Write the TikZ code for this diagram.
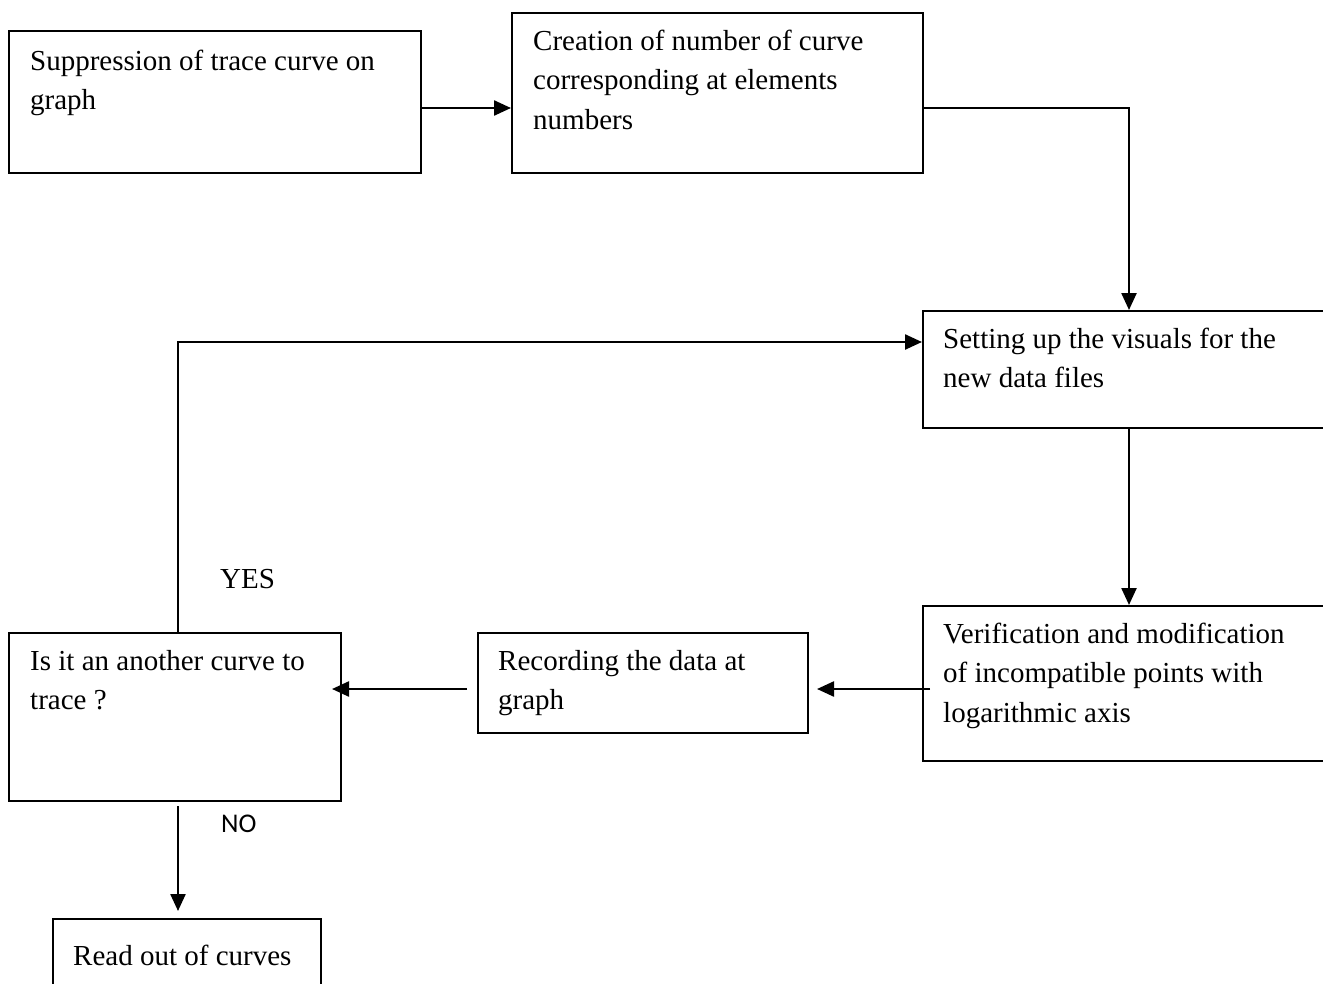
\documentclass[tikz,border=0pt]{standalone}
\usepackage{fontspec}
\setmainfont{Liberation Serif}
\newfontfamily\calibri{Carlito}
\usetikzlibrary{arrows.meta}
\tikzset{
  box/.style={draw=black, fill=white, line width=2pt, inner sep=0pt, anchor=north west},
  txt/.style={anchor=base west, align=left, inner sep=0pt, font=\fontsize{29}{39.5}\selectfont},
  fl/.style={-{Triangle[length=17pt,width=15pt]}, line width=2.4pt, draw=black},
}
\begin{document}
\begin{tikzpicture}[x=1pt,y=-1pt]
  \clip (0,0) rectangle (1323,983);
  \fill[white] (0,0) rectangle (1323,983);
  % boxes
  \node[box, minimum width=412pt, minimum height=142pt] (b1) at (8,30) {};
  \node[box, minimum width=411pt, minimum height=160pt] (b2) at (511,12) {};
  \node[box, minimum width=412pt, minimum height=117pt] (b3) at (922,310) {};
  \node[box, minimum width=412pt, minimum height=155pt] (b4) at (922,605) {};
  \node[box, minimum width=330pt, minimum height=100pt] (b5) at (477,632) {};
  \node[box, minimum width=332pt, minimum height=168pt] (b6) at (8,632) {};
  \node[box, minimum width=268pt, minimum height=90pt] (b7) at (52,918) {};
  % texts (placed by the baseline of their last line)
  \node[txt] (t1) at (30,109.5) {Suppression of trace curve on\\graph};
  \node[txt] (t2) at (533,129) {Creation of number of curve\\corresponding at elements\\numbers};
  \node[txt] (t3) at (943,387.5) {Setting up the visuals for the\\new data files};
  \node[txt] (t4) at (943,722) {Verification and modification\\of incompatible points with\\logarithmic axis};
  \node[txt] (t5) at (498,709.5) {Recording the data at\\graph};
  \node[txt] (t6) at (30,709.5) {Is it an another curve to\\trace ?};
  \node[txt] (t7) at (73,965) {Read out of curves};
  \node[txt] (yes) at (220,588) {YES};
  \node[txt, font=\calibri\fontsize{27}{32}\selectfont] (no) at (221,832) {NO};
  % connectors
  \draw[fl] ([yshift=-6pt]b1.east) -- ([yshift=-6pt]b1.east -| b2.west);
  \draw[fl] ([yshift=-15pt]b2.east) -| (b3.north);
  \draw[fl] (b3.south) -- (b4.north);
  \draw[fl] ([shift={(8pt,-5.5pt)}]b4.west) -- ([shift={(8pt,-5.5pt)}]b4.west -| b5.east);
  \draw[fl] ([shift={(-10pt,-6pt)}]b5.west) -- ([shift={(-10pt,-6pt)}]b5.west -| b6.east);
  \draw[fl] ([xshift=3pt]b6.north) |- ([yshift=27.5pt]b3.west);
  \draw[fl] ([shift={(3pt,-4pt)}]b6.south) -- ([shift={(3pt,7pt)}]b6.south |- b7.north);
\end{tikzpicture}
\end{document}
